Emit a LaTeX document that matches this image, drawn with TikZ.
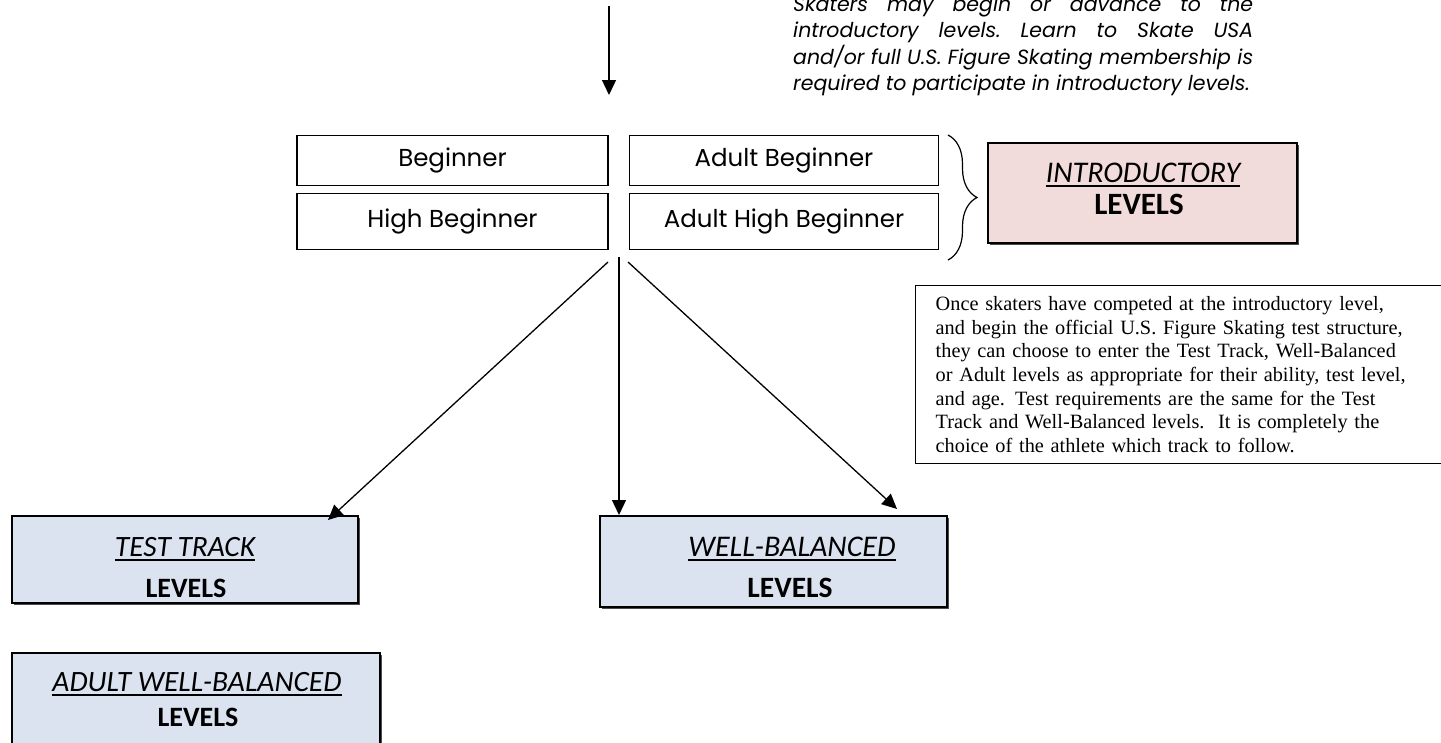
\documentclass[tikz,border=0pt]{standalone}
\usepackage{fontspec}
\setmainfont{Liberation Serif}
\newfontfamily\gothic{Poppins}
\newfontfamily\calib{Carlito}
\usetikzlibrary{arrows.meta,decorations.pathreplacing,shadows}
\definecolor{introfill}{HTML}{F2DCDB}
\definecolor{trackfill}{HTML}{DCE3F0}
\newcommand{\hdul}[1]{\setbox0\hbox{#1}\rlap{\usebox0}\rule[-5pt]{\wd0}{2.5pt}}
\tikzstyle{levelbox}=[draw,line width=1.4pt,inner sep=0pt,font=\gothic\fontsize{24.5}{28}\selectfont]
\tikzstyle{groupbox}=[draw,line width=1.4pt,inner sep=0pt,drop shadow={shadow xshift=1.5pt,shadow yshift=-1.5pt,fill=black!70,opacity=1}]
\tikzstyle{headtext}=[anchor=base,inner sep=0pt,font=\calib\itshape\fontsize{29.5}{34}\selectfont]
\tikzstyle{leveltext}=[anchor=base,inner sep=0pt,font=\calib\bfseries\fontsize{28}{32}\selectfont]
\tikzstyle{arrow}=[line width=1.3pt,-{Triangle[length=15pt,width=14pt]}]

\begin{document}
\begin{tikzpicture}[x=1pt,y=-1pt]
\useasboundingbox (0,0) rectangle (1441,742);
% entry arrow and note
\coordinate (in) at (609,6);
\coordinate (inend) at (609,95);
\draw[arrow] (in) -- (inend);
\node[anchor=base west,inner sep=0pt,text width=460pt,align=justify,font=\gothic\itshape\fontsize{20.5}{26.5}\selectfont\frenchspacing] (note) at (793,11) {Skaters may begin or advance to the\linebreak introductory levels. Learn to Skate USA\linebreak and/or full U.S. Figure Skating membership is\linebreak required to participate in introductory levels.};

% introductory levels
\node[levelbox,minimum width=311pt,minimum height=50pt] (beg) at (452.5,160.5) {Beginner};
\node[levelbox,minimum width=311pt,minimum height=56pt] (hbeg) at (452.5,221.5) {High Beginner};
\node[levelbox,minimum width=309pt,minimum height=50pt] (abeg) at (784,160.5) {Adult Beginner};
\node[levelbox,minimum width=309pt,minimum height=56pt] (ahbeg) at (784,221.5) {Adult High Beginner};
\coordinate (bracetop) at (948,135);
\coordinate (bracebot) at (948,260);
\draw[line width=1.2pt,decorate,decoration={brace,amplitude=29pt,aspect=0.5}] (bracetop) -- (bracebot);
\node[groupbox,fill=introfill,minimum width=309pt,minimum height=100pt] (intro) at (1142.5,193) {};
\node[headtext,font=\calib\itshape\fontsize{30}{34}\selectfont] (introhead) at (1143,182) {\hdul{INTRODUCTORY}};
\node[leveltext,font=\calib\bfseries\fontsize{31}{34}\selectfont] (introlev) at (1139,214) {LEVELS};

% note on the tracks
\node[draw,line width=1.4pt,anchor=north west,inner xsep=20pt,inner ysep=11pt,text width=505pt,align=left,font=\fontsize{20.3}{23.6}\selectfont] (info) at (915,285) {Once skaters have competed at the introductory level,\\ and begin the official U.S. Figure Skating test structure,\\ they can choose to enter the Test Track, Well-Balanced\\ or Adult levels as appropriate for their ability, test level,\\ and age. Test requirements are the same for the Test\\ Track and Well-Balanced levels.\ \ It is completely the\\ choice of the athlete which track to follow.};

% tracks
\node[groupbox,fill=trackfill,minimum width=346pt,minimum height=87pt] (tt) at (185,559.5) {};
\node[headtext] (tthead) at (185,556) {\hdul{TEST TRACK}};
\node[leveltext] (ttlev) at (186,597) {LEVELS};
\node[groupbox,fill=trackfill,minimum width=347pt,minimum height=91pt] (wb) at (773.5,561.5) {};
\node[headtext,font=\calib\itshape\fontsize{30}{34}\selectfont] (wbhead) at (792,556) {\hdul{WELL-BALANCED}};
\node[leveltext,font=\calib\bfseries\fontsize{29.5}{34}\selectfont] (wblev) at (790,597) {LEVELS};
\node[groupbox,fill=trackfill,minimum width=368pt,minimum height=120pt] (awb) at (196,713) {};
\node[headtext] (awbhead) at (197,691) {\hdul{ADULT WELL-BALANCED}};
\node[leveltext] (awblev) at (198,726) {LEVELS};

% arrows to the tracks
\coordinate (outl) at (608,262);
\coordinate (outm) at (619,257);
\coordinate (outr) at (628,262);
\coordinate (ttin) at (328,520);
\coordinate (wbin) at (619,515);
\coordinate (wbin2) at (897,509);
\draw[arrow] (outl) -- (ttin);
\draw[arrow] (outm) -- (wbin);
\draw[arrow] (outr) -- (wbin2);
\end{tikzpicture}
\end{document}
